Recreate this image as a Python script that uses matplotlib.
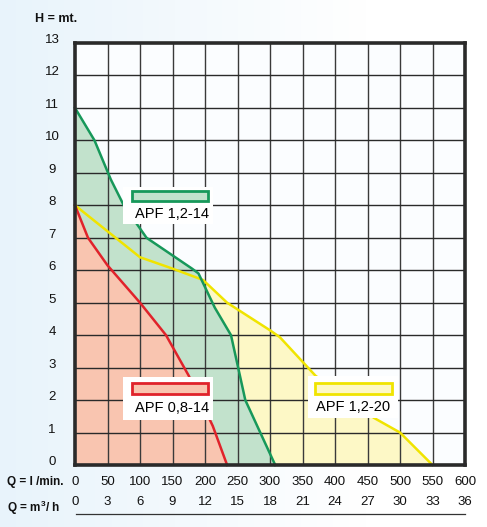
import numpy as np
import matplotlib
matplotlib.use("Agg")
import matplotlib.pyplot as plt
from matplotlib.patches import Rectangle
from matplotlib.transforms import blended_transform_factory, ScaledTranslation

plt.rcParams['font.family'] = ['Liberation Sans', 'DejaVu Sans']

# ---- data ----
q_ticks = [0, 50, 100, 150, 200, 250, 300, 350, 400, 450, 500, 550, 600]
m3h_ticks = [0, 3, 6, 9, 12, 15, 18, 21, 24, 27, 30, 33, 36]
h_ticks = list(range(0, 14))

green_q = [0, 30, 55, 75, 110, 180, 190, 215, 240, 262, 308]
green_h = [11, 10, 8.8, 8.0, 7.0, 6.05, 5.9, 4.85, 4.0, 2.0, 0]

red_q = [0, 20, 50, 100, 140, 175, 212, 234]
red_h = [8, 7, 6.15, 5.0, 4.0, 2.75, 1.2, 0]

yellow_q = [0, 50, 100, 150, 197, 234, 300, 315, 370, 460, 500, 550]
yellow_h = [8, 7.2, 6.4, 6.05, 5.7, 5.0, 4.15, 3.94, 2.75, 1.45, 1.0, 0]

names = ["APF 1,2-14", "APF 0,8-14", "APF 1,2-20"]

W, H = 487, 527
fig = plt.figure(figsize=(W / 100, H / 100), dpi=100)

# background gradient
bg = fig.add_axes([0, 0, 1, 1], zorder=-10)
gx = np.linspace(0, 1, 200)
grad = np.clip(1 - gx / 0.75, 0, 1)
img = np.zeros((2, 200, 3))
c0 = np.array([0.91, 0.955, 0.985])
for i in range(3):
    img[:, :, i] = 1 - (1 - c0[i]) * grad
bg.imshow(img, aspect='auto', extent=[0, 1, 0, 1])
bg.axis('off')

def fx(x):
    return x / W
def fy(y):
    return 1 - y / H

L, R, T, B = 75, 465, 43, 465
ax = fig.add_axes([fx(L), fy(B), (R - L) / W, (B - T) / H])
ax.set_facecolor('#fbfdff')
ax.set_xlim(0, 600)
ax.set_ylim(0, 13)

# fills
ax.fill_between(yellow_q, yellow_h, 0, color='#fdf8c6', lw=0, zorder=1)
ax.fill_between(green_q, green_h, 0, color='#c2e2cc', lw=0, zorder=2)
ax.fill_between(red_q, red_h, 0, color='#f9c5b0', lw=0, zorder=3)

# grid
for q in q_ticks[1:-1]:
    ax.axvline(q, color='#3a3a3a', lw=1.0, zorder=4)
for h in h_ticks[1:-1]:
    ax.axhline(h, color='#2a2a2a', lw=1.0, zorder=4)

# curves
ax.plot(yellow_q, yellow_h, color='#f0e400', lw=1.8, zorder=5, clip_on=False)
ax.plot(green_q, green_h, color='#17985a', lw=1.8, zorder=6, clip_on=False)
ax.plot(red_q, red_h, color='#e0232b', lw=1.8, zorder=7, clip_on=False)

ax.set_xticks([])
ax.set_yticks([])
for s in ax.spines.values():
    s.set_linewidth(2.6)
    s.set_color('#2a2a2a')
    s.set_zorder(10)

# legend boxes (pixel layout)
boxes = [
    ((123, 187, 213, 224), (132, 191, 208, 201), (172, 214), '#c2e2cc', '#17985a'),
    ((123, 377, 213, 420), (132, 383, 208, 394), (172, 408), '#f9c5b0', '#e0232b'),
    ((308, 376, 398, 418), (315, 383, 392, 394), (353, 407), '#fdf8c6', '#f0e400'),
]
for name, (bgb, sw, tp, fc, ec) in zip(names, boxes):
    x0, y0, x1, y1 = bgb
    fig.add_artist(Rectangle((fx(x0), fy(y1)), (x1 - x0) / W, (y1 - y0) / H,
                             transform=fig.transFigure, facecolor='white',
                             edgecolor='none', zorder=20))
    x0, y0, x1, y1 = sw
    fig.add_artist(Rectangle((fx(x0), fy(y1)), (x1 - x0) / W, (y1 - y0) / H,
                             transform=fig.transFigure, facecolor=fc,
                             edgecolor=ec, lw=2.0, zorder=21))
    fig.text(fx(tp[0]), fy(tp[1]), name, ha='center', va='center',
             fontsize=10.5, color='black', zorder=22)

# y tick labels
ytr = blended_transform_factory(fig.transFigure, ax.transData) + \
    ScaledTranslation(0, 3 / 100, fig.dpi_scale_trans)
for h in h_ticks:
    fig.text(fx(52), h, str(h), transform=ytr, ha='center', va='center',
             fontsize=9.5, color='#111111')

# x tick labels
xtr = blended_transform_factory(ax.transData, fig.transFigure)
for q, m in zip(q_ticks, m3h_ticks):
    fig.text(q, fy(482), str(q), transform=xtr, ha='center', va='center',
             fontsize=9.5, color='#111111')
    fig.text(q, fy(502), str(m), transform=xtr, ha='center', va='center',
             fontsize=9.5, color='#111111')

fig.text(fx(35), fy(19), 'H = mt.', ha='left', va='center', fontsize=9,
         fontweight='bold', color='#111111')
fig.text(fx(7), fy(482), 'Q = l /min.', ha='left', va='center', fontsize=8.5,
         fontweight='bold', color='#111111')
fig.text(fx(7), fy(508), 'Q = m$^{\\mathregular{3}}$/ h', ha='left', va='center',
         fontsize=8.5, fontweight='bold', color='#111111')

fig.add_artist(plt.Line2D([fx(76), fx(465)], [fy(514), fy(514)],
                          transform=fig.transFigure, color='#333333', lw=0.9))

fig.savefig('out.png', dpi=100)
